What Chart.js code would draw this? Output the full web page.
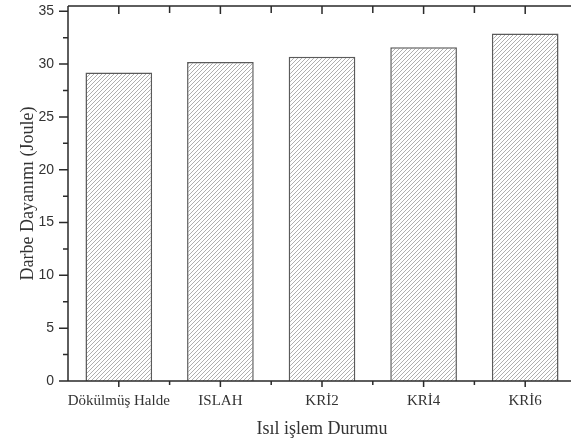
<!DOCTYPE html>
<html>
<head>
<meta charset="utf-8">
<script src="https://cdn.jsdelivr.net/npm/chart.js@4.4.1/dist/chart.umd.min.js"></script>
<style>
  html, body { margin: 0; padding: 0; background: #fff; overflow: hidden; }
  #wrap { width: 600px; height: 443px; }
  canvas { display: block; }
</style>
</head>
<body>
<div id="wrap"><canvas id="myChart" width="600" height="443"></canvas></div>
<script>
// Data
const categories = ["Dökülmüş Halde", "ISLAH", "KRİ2", "KRİ4", "KRİ6"];
const impactValues = [29.2, 30.2, 30.7, 31.6, 32.9];
const yTickValues = [0, 5, 10, 15, 20, 25, 30, 35];
const yMinorValues = [2.5, 7.5, 12.5, 17.5, 22.5, 27.5, 32.5];

// Hatch pattern for bars
function hatch() {
  var s = 4;
  var c = document.createElement("canvas");
  c.width = s;
  c.height = s;
  var g = c.getContext("2d");
  g.fillStyle = "#fff";
  g.fillRect(0, 0, s, s);
  g.strokeStyle = "#9a9a9a";
  g.lineWidth = 0.8;
  g.beginPath();
  g.moveTo(0, s); g.lineTo(s, 0);
  g.moveTo(-1, 1); g.lineTo(1, -1);
  g.moveTo(s - 1, s + 1); g.lineTo(s + 1, s - 1);
  g.stroke();
  return g.createPattern(c, "repeat");
}

// Frame and tick marks
const frame = {
  id: "frame",
  afterDatasetsDraw(chart) {
    var ctx = chart.ctx;
    var a = chart.chartArea;
    var x = chart.scales.x, y = chart.scales.y;
    ctx.save();
    ctx.strokeStyle = "#2a2a2a";
    ctx.lineWidth = 1.5;
    ctx.beginPath();
    ctx.moveTo(a.left, a.top); ctx.lineTo(chart.width, a.top);
    ctx.moveTo(a.left, a.top); ctx.lineTo(a.left, a.bottom);
    ctx.moveTo(a.left, a.bottom); ctx.lineTo(chart.width, a.bottom);
    yTickValues.forEach(function (v) {
      var p = y.getPixelForValue(v);
      ctx.moveTo(a.left - 9, p); ctx.lineTo(a.left, p);
    });
    yMinorValues.forEach(function (v) {
      var p = y.getPixelForValue(v);
      ctx.moveTo(a.left - 5, p); ctx.lineTo(a.left, p);
    });
    categories.forEach(function (c, i) {
      var p = x.getPixelForValue(i);
      ctx.moveTo(p, a.bottom); ctx.lineTo(p, a.bottom + 6);
      ctx.moveTo(p, a.top); ctx.lineTo(p, a.top + 8);
      var q = x.getPixelForValue(i + 0.5);
      ctx.moveTo(q, a.bottom); ctx.lineTo(q, a.bottom + 4);
      ctx.moveTo(q, a.top); ctx.lineTo(q, a.top + 7);
    });
    ctx.stroke();
    ctx.restore();
  },
};

var ctx = document.getElementById("myChart").getContext("2d");
var myChart = new Chart(ctx, {
  type: "bar",
  data: {
    labels: categories,
    datasets: [
      {
        data: impactValues,
        backgroundColor: hatch(),
        borderColor: "#5a5a5a",
        borderWidth: 1.5,
        categoryPercentage: 1,
        barPercentage: 0.656,
      },
    ],
  },
  options: {
    responsive: false,
    animation: false,
    layout: { padding: { left: 0, top: 6, right: 24, bottom: 0 } },
    plugins: { legend: { display: false }, tooltip: { enabled: false } },
    scales: {
      x: {
        grid: { display: false, drawTicks: false },
        border: { display: false },
        ticks: {
          padding: 11,
          color: "#333",
          autoSkip: false,
          font: { family: "Liberation Serif", size: 15 },
          maxRotation: 0,
        },
        title: {
          display: true,
          text: "Isıl işlem Durumu",
          color: "#333",
          font: { family: "Liberation Serif", size: 18 },
          padding: { top: 0, bottom: 3 },
        },
        afterFit(scale) {
          scale.height = 62;
          scale.paddingLeft = 0;
          scale.paddingRight = 0;
        },
      },
      y: {
        min: 0,
        max: 35.5,
        grid: { display: false, drawTicks: false },
        border: { display: false },
        afterBuildTicks(scale) {
          scale.ticks = yTickValues.map(function (v) { return { value: v }; });
        },
        ticks: {
          padding: 14,
          color: "#333",
          font: { family: "Liberation Sans", size: 14 },
        },
        title: {
          display: true,
          text: "Darbe Dayanımı (Joule)",
          color: "#333",
          font: { family: "Liberation Serif", size: 18 },
          padding: { top: 17, bottom: 0 },
        },
        afterFit(scale) {
          scale.width = 68;
          scale.paddingTop = 0;
          scale.paddingBottom = 0;
        },
      },
    },
  },
  plugins: [frame],
});
</script>
</body>
</html>
